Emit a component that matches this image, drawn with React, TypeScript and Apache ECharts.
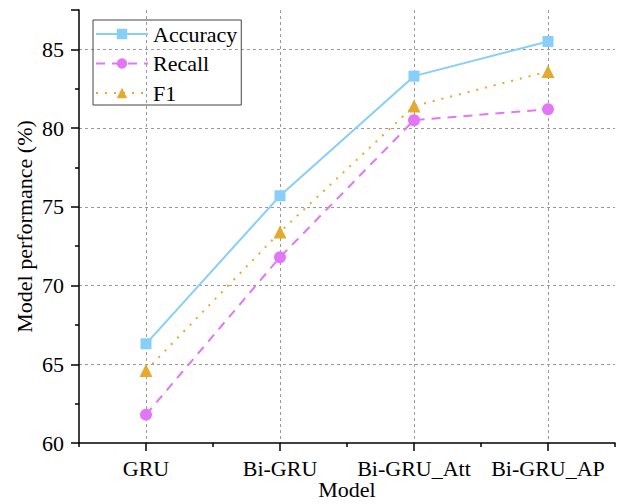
import React, { useEffect, useRef } from "react";
import * as echarts from "echarts";

const categories = ["GRU", "Bi-GRU", "Bi-GRU_Att", "Bi-GRU_AP"];
const accuracy = [66.3, 75.7, 83.3, 85.5];
const recall = [61.8, 71.8, 80.5, 81.2];
const f1 = [64.6, 73.4, 81.4, 83.6];

const FONT = "'Liberation Serif', 'Times New Roman', serif";

export default function App() {
  const ref = useRef<HTMLDivElement>(null);
  useEffect(() => {
    if (!ref.current) return;
    const chart = echarts.init(ref.current, null, { renderer: "svg" });
    const gridLine = { show: true, lineStyle: { color: "#999", type: [3, 3] as any, width: 1 } };
    const txt = { fontFamily: FONT, fontSize: 22, color: "#000" };
    chart.setOption({
      animation: false,
      backgroundColor: "#fff",
      textStyle: { fontFamily: FONT },
      grid: { left: 79, right: 9, top: 10, bottom: 61, outerBoundsMode: "none", containLabel: false },
      legend: {
        orient: "vertical",
        left: 93,
        top: 20,
        padding: [3, 4, 1, 2],
        itemGap: 7.5,
        itemWidth: 52,
        itemHeight: 13,
        borderColor: "#444",
        borderWidth: 1,
        textStyle: txt,
        data: ["Accuracy", "Recall", "F1"],
      },
      xAxis: [
        {
          type: "category",
          data: categories,
          boundaryGap: true,
          name: "Model",
          nameLocation: "middle",
          nameGap: 35,
          nameMoveOverlap: false,
          nameTextStyle: { ...txt, lineHeight: 22 },
          axisLine: { lineStyle: { color: "#000", width: 1.5 } },
          axisTick: { show: true, interval: 0, alignWithLabel: true, length: 8, lineStyle: { color: "#000", width: 1.5 } },
          axisLabel: { ...txt, interval: 0, margin: 14 },
          splitLine: { ...gridLine, interval: 0, alignWithLabel: true },
        },
        {
          type: "category",
          data: categories,
          boundaryGap: true,
          position: "bottom",
          axisLine: { show: false },
          axisTick: { show: true, interval: 0, length: 4, lineStyle: { color: "#000", width: 1.5 } },
          axisLabel: { show: false },
          splitLine: { show: false },
        },
      ],
      yAxis: {
        type: "value",
        min: 60,
        max: 87.5,
        interval: 5,
        name: "Model performance (%)",
        nameLocation: "middle",
        nameGap: 44,
        nameMoveOverlap: false,
        nameTextStyle: txt,
        axisLine: { show: true, lineStyle: { color: "#000", width: 1.5 } },
        axisTick: { show: true, length: 8, lineStyle: { color: "#000", width: 1.5 } },
        minorTick: { show: true, splitNumber: 2, length: 4, lineStyle: { color: "#000", width: 1.5 } },
        axisLabel: {
          ...txt,
          margin: 15,
          formatter: (v: number) => (v % 5 === 0 ? String(v) : ""),
        },
        splitLine: { ...gridLine, showMaxLine: false, showMinLine: false },
      },
      series: [
        {
          name: "Accuracy",
          type: "line",
          xAxisIndex: 0,
          data: accuracy,
          symbol: "rect",
          symbolSize: 11,
          color: "#87CEFA",
          lineStyle: { width: 2, color: "#87CEFA" },
          itemStyle: { color: "#87CEFA" },
        },
        {
          name: "Recall",
          type: "line",
          xAxisIndex: 0,
          data: recall,
          symbol: "circle",
          symbolSize: 12,
          color: "#E376F6",
          lineStyle: { width: 2, color: "#E376F6", type: [9, 7] },
          itemStyle: { color: "#E376F6" },
        },
        {
          name: "F1",
          type: "line",
          xAxisIndex: 0,
          data: f1,
          symbol: "triangle",
          symbolSize: 13,
          color: "#E6A930",
          lineStyle: { width: 2, color: "#E6A930", type: [2, 7] },
          itemStyle: { color: "#E6A930" },
        },
      ],
    });
    return () => chart.dispose();
  }, []);
  return <div ref={ref} style={{ position: "absolute", left: 0, top: 0, width: 624, height: 504 }} />;
}
